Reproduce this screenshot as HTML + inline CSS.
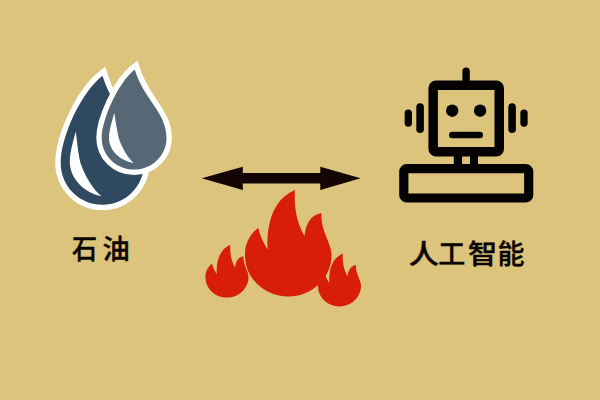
<!DOCTYPE html>
<html lang="zh-CN">
<head>
<meta charset="utf-8">
<title>石油 ↔ 人工智能</title>
<style>
html,body{margin:0;padding:0;}
body{width:600px;height:400px;overflow:hidden;background:#DCC47C;position:relative;font-family:"Liberation Sans","Noto Sans CJK SC",sans-serif;}
svg{position:absolute;left:0;top:0;}
.lbl{position:absolute;color:#0c0503;font-weight:500;white-space:nowrap;line-height:1;-webkit-text-stroke:0.4px #0c0503;}
.g{display:inline-block;transform-origin:4% 50%;}
#t1{left:72px;top:236px;font-size:27.3px;letter-spacing:3.2px;}
#t2{left:408.5px;top:241.6px;font-size:27px;letter-spacing:2.7px;}
</style>
</head>
<body>
<svg width="600" height="400" viewBox="0 0 600 400">
  <!-- left oil drop -->
  <g>
    <path id="d1" d="M102.5,75.75 C81.9,91.5 60.7,135.9 60.7,163 C60.7,186.2 79.4,204.8 102.5,204.8 C125.6,204.8 144.2,186.2 144.2,162.5 C144.2,129 114.4,115.1 102.5,75.75 Z" fill="#2F4961" stroke="#ffffff" stroke-width="10.8" stroke-linejoin="miter" stroke-miterlimit="6" paint-order="stroke"/>
    <path d="M75.8,131.4 C73,142 69.8,152 69.8,162 C69.8,178 84,193 101.6,196.2 C93,190 84,174 80.5,163 C78.5,155 77.2,143 75.8,131.4 Z" fill="#ffffff"/>
  </g>
  <!-- right oil drop -->
  <g>
    <path id="d2" d="M134.75,69.5 C118.1,82.5 101.7,119.8 101.7,138 C101.7,155.5 116.2,169.6 134.1,169.6 C152,169.6 166.5,155.5 166.5,138 C166.5,112 144,100 134.75,69.5 Z" fill="#566776" stroke="#ffffff" stroke-width="10.8" stroke-linejoin="miter" stroke-miterlimit="6" paint-order="stroke"/>
    <path d="M114.3,112.8 C112.5,120 109,130 109,138 C109,151 121,161 133.8,163 C127.5,158 121,146 118.5,137 C116.8,129 115.2,120 114.3,112.8 Z" fill="#ffffff"/>
  </g>
  <!-- arrow -->
  <path d="M201.8,178.3 L242.8,166.8 L242.8,172.9 L320.3,172.9 L320.3,166.8 L360.7,178.3 L320.3,189.9 L320.3,183.4 L242.8,183.4 L242.8,189.9 Z" fill="#140505"/>
  <!-- fire -->
  <g fill="#D81E09">
    <path d="M294.9,190 C294.5,201.6 294.3,218 304.5,236.1 C305.8,222.9 311.3,214.9 321.6,213.1 C319.9,230.4 331.6,243 331.6,255 C331.6,278 312,296.5 288.3,296.5 C264.5,296.5 245.1,278 245.1,256.5 C244,244.9 249.6,234.8 258.1,227.7 C259.5,233.5 263.1,242.6 267.6,249.5 C266.4,221.3 274.2,198.9 294.9,190 Z" transform="translate(227,297.6) scale(0.497) translate(-288.3,-296.5)"/>
    <path d="M294.9,190 C294.5,201.6 294.3,218 304.5,236.1 C305.8,222.9 311.3,214.9 321.6,213.1 C319.9,230.4 331.6,243 331.6,255 C331.6,278 312,296.5 288.3,296.5 C264.5,296.5 245.1,278 245.1,256.5 C244,244.9 249.6,234.8 258.1,227.7 C259.5,233.5 263.1,242.6 267.6,249.5 C266.4,221.3 274.2,198.9 294.9,190 Z" transform="translate(339.5,306.4) scale(0.497) translate(-288.3,-296.5)"/>
    <path d="M294.9,190 C294.5,201.6 294.3,218 304.5,236.1 C305.8,222.9 311.3,214.9 321.6,213.1 C319.9,230.4 331.6,243 331.6,255 C331.6,278 312,296.5 288.3,296.5 C264.5,296.5 245.1,278 245.1,256.5 C244,244.9 249.6,234.8 258.1,227.7 C259.5,233.5 263.1,242.6 267.6,249.5 C266.4,221.3 274.2,198.9 294.9,190 Z"/>
  </g>
  <!-- robot -->
  <g fill="none" stroke="#040101" stroke-width="9" stroke-linejoin="round" stroke-linecap="round">
    <rect x="433.15" y="85.15" width="66.1" height="66.5" rx="3" stroke-width="9.5"/>
    <rect x="403.8" y="168.6" width="124.9" height="29.4" rx="3" stroke-width="9.2"/>
    <line x1="466.1" y1="71.2" x2="466.1" y2="83" stroke-width="7.4"/>
    <line x1="420.1" y1="107.1" x2="420.1" y2="129.2" stroke-width="7.6"/>
    <line x1="408.3" y1="113.05" x2="408.3" y2="123.05" stroke-width="7.3"/>
    <line x1="512.1" y1="107.1" x2="512.1" y2="129.2" stroke-width="7.6"/>
    <line x1="524" y1="113.05" x2="524" y2="123.05" stroke-width="7.3"/>
    <line x1="452.3" y1="135" x2="479.7" y2="135" stroke-width="6.6"/>
  </g>
  <g fill="#040101">
    <circle cx="452.2" cy="110.7" r="6.2"/>
    <circle cx="480.1" cy="110.7" r="6.2"/>
    <rect x="453.8" y="154" width="8.3" height="12"/>
    <rect x="470" y="154" width="8" height="12"/>
  </g>
</svg>
<div class="lbl" id="t1"><span class="g" style="transform:scaleX(0.92)">石</span>油</div>
<div class="lbl" id="t2"><span class="g" style="transform:scaleX(1.12)">人</span>工<span class="g" style="transform:scaleX(1.08)">智</span>能</div>
</body>
</html>
